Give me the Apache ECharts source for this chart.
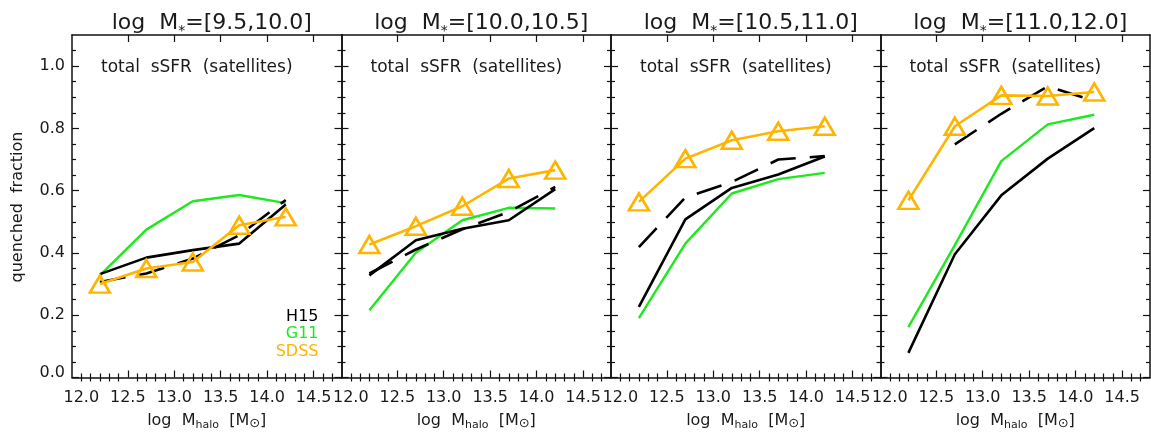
<!DOCTYPE html>
<html>
<head>
<meta charset="utf-8">
<script src="https://cdn.jsdelivr.net/npm/echarts@6/dist/echarts.min.js"></script>
<style>
  html, body { margin: 0; padding: 0; background: #fff; }
  #chart { width: 1151px; height: 438px; }
</style>
</head>
<body>
<div id="chart"></div>
<script>
// Halo-mass bin centres (log M_halo) shared by every panel
const haloMass = [12.2, 12.7, 13.2, 13.7, 14.2];

// Stellar-mass bins, one per panel
const massBins = ['[9.5,10.0]', '[10.0,10.5]', '[10.5,11.0]', '[11.0,12.0]'];

// Tick labels
const xTickLabels = [12.0, 12.5, 13.0, 13.5, 14.0, 14.5];
const xMajorTicks = [12.5, 13.0, 13.5, 14.0, 14.5];
const yTickLabels = [0.0, 0.2, 0.4, 0.6, 0.8, 1.0];

// Quenched fraction of satellites, one row per stellar-mass bin
const h15Solid = [
  [0.332, 0.385, 0.409, 0.430, 0.556],
  [0.328, 0.441, 0.478, 0.505, 0.605],
  [0.227, 0.508, 0.609, 0.652, 0.710],
  [0.079, 0.396, 0.585, 0.703, 0.801]
];
const h15Dashed = [
  [0.307, 0.334, 0.382, 0.457, 0.570],
  [0.334, 0.411, 0.476, 0.532, 0.612],
  [0.419, 0.578, 0.628, 0.700, 0.711],
  [null,  0.749, 0.847, 0.935, 0.888]
];
const g11 = [
  [0.328, 0.475, 0.566, 0.586, 0.560],
  [0.216, 0.401, 0.505, 0.545, 0.543],
  [0.191, 0.430, 0.591, 0.637, 0.657],
  [0.162, 0.425, 0.695, 0.813, 0.844]
];
const sdss = [
  [0.300, 0.350, 0.371, 0.489, 0.516],
  [0.427, 0.486, 0.550, 0.639, 0.666],
  [0.564, 0.703, 0.762, 0.791, 0.807],
  [0.569, 0.807, 0.906, 0.904, 0.917]
];

const BLACK = '#000000';
const GREEN = '#1ee81e';
const ORANGE = '#ffb400';
const FONT = 'DejaVu Sans';
const TEXT = '#1a1a1a';

const X_MIN = 11.9, X_MAX = 14.8, Y_MIN = 0, Y_MAX = 1.1;
const PANEL_LEFT = 72, PANEL_TOP = 35, PANEL_W = 269.5, PANEL_H = 342.5;

// minor tick positions (every 0.1 in x, every 0.05 in y)
const xMinorTicks = [];
for (let k = 120; k <= 147; k++) {
  const v = k / 10;
  if (!xMajorTicks.some(m => Math.abs(m - v) < 1e-6)) xMinorTicks.push(v);
}
const yMinorTicks = [];
for (let k = 1; k <= 21; k++) {
  if (k % 4 !== 0) yMinorTicks.push(k * 0.05);
}

const grids = [], xAxes = [], yAxes = [], series = [], titles = [];
const axisLine = { show: true, onZero: false, lineStyle: { color: '#111', width: 1.5 } };

function xAxisDef(g, pos, major, labels) {
  return {
    type: 'value', gridIndex: g, position: pos, min: X_MIN, max: X_MAX,
    axisLine: major ? axisLine : { show: false },
    axisTick: { show: true, inside: true, length: major ? 7 : 4,
      customValues: major ? xMajorTicks : xMinorTicks,
      lineStyle: { color: '#111', width: 1.2 } },
    axisLabel: labels ? {
      show: true, customValues: xTickLabels, margin: 12,
      formatter: v => v.toFixed(1),
      color: TEXT, fontFamily: FONT, fontSize: 16
    } : { show: false },
    splitLine: { show: false }
  };
}
function yAxisDef(g, pos, major, labels) {
  return {
    type: 'value', gridIndex: g, position: pos, min: Y_MIN, max: Y_MAX,
    axisLine: major ? axisLine : { show: false },
    axisTick: { show: true, inside: true, length: major ? 7 : 4,
      customValues: major ? yTickLabels : yMinorTicks,
      lineStyle: { color: '#111', width: 1.2 } },
    axisLabel: labels ? {
      show: true, customValues: yTickLabels, margin: 7,
      formatter: v => (Math.abs(v) < 1e-9 ? '{z|0.0}' : v.toFixed(1)),
      rich: { z: { padding: [0, 0, 10, 0], fontFamily: FONT, fontSize: 16, color: TEXT } },
      color: TEXT, fontFamily: FONT, fontSize: 16
    } : { show: false },
    splitLine: { show: false }
  };
}

function points(row) {
  const out = [];
  haloMass.forEach((x, j) => { if (row[j] !== null) out.push([x, row[j]]); });
  return out;
}

massBins.forEach((bin, i) => {
  const left = PANEL_LEFT + i * PANEL_W;
  grids.push({ left: left, top: PANEL_TOP, width: PANEL_W, height: PANEL_H, containLabel: false });

  const xi = xAxes.length;
  const xMain = xAxisDef(i, 'bottom', true, true);
  xMain.name = 'log  M{s|halo}  [M{o|\u2299}]';
  xMain.nameLocation = 'middle';
  xMain.nameGap = 33;
  xMain.nameTextStyle = {
    color: TEXT, fontFamily: FONT, fontSize: 16, lineHeight: 20,
    rich: { s: { fontFamily: FONT, fontSize: 11, color: TEXT, lineHeight: 20, verticalAlign: 'bottom' },
            o: { fontFamily: FONT, fontSize: 13, color: TEXT, lineHeight: 20, verticalAlign: 'bottom' } }
  };
  xAxes.push(xMain);
  xAxes.push(xAxisDef(i, 'bottom', false, false));
  xAxes.push(xAxisDef(i, 'top', true, false));
  xAxes.push(xAxisDef(i, 'top', false, false));

  const yi = yAxes.length;
  yAxes.push(yAxisDef(i, 'left', true, i === 0));
  yAxes.push(yAxisDef(i, 'left', false, false));
  yAxes.push(yAxisDef(i, 'right', true, false));
  yAxes.push(yAxisDef(i, 'right', false, false));

  const base = { type: 'line', xAxisIndex: xi, yAxisIndex: yi, showSymbol: false, symbol: 'none', animation: false };
  series.push(Object.assign({}, base, {
    name: 'G11', data: points(g11[i]), z: 2,
    lineStyle: { color: GREEN, width: 2.4 }
  }));
  series.push(Object.assign({}, base, {
    name: 'H15', data: points(h15Solid[i]), z: 3,
    lineStyle: { color: BLACK, width: 2.6 }
  }));
  series.push(Object.assign({}, base, {
    name: 'H15 dashed', data: points(h15Dashed[i]), z: 3,
    lineStyle: { color: BLACK, width: 2.6, type: [26, 14] }
  }));
  series.push(Object.assign({}, base, {
    name: 'SDSS', data: points(sdss[i]), z: 4,
    showSymbol: true, symbol: 'triangle', symbolSize: [20, 17],
    lineStyle: { color: ORANGE, width: 2.6 },
    itemStyle: { color: 'rgba(0,0,0,0)', borderColor: ORANGE, borderWidth: 2.6 }
  }));

  titles.push({
    text: 'log  M{s|*}=' + bin,
    left: left + PANEL_W / 2, top: 18, textAlign: 'center', textVerticalAlign: 'middle',
    textStyle: {
      color: TEXT, fontFamily: FONT, fontSize: 22, fontWeight: 'normal', lineHeight: 28,
      rich: { s: { fontFamily: FONT, fontSize: 14, color: TEXT, lineHeight: 30, verticalAlign: 'bottom' } }
    }
  });
  titles.push({
    text: 'total  sSFR  (satellites)',
    left: left + 24, top: 63, textVerticalAlign: 'middle',
    textStyle: { color: TEXT, fontFamily: FONT, fontSize: 17, fontWeight: 'normal' }
  });
});

// legend text in the first panel
[['H15', BLACK, 312], ['G11', GREEN, 329], ['SDSS', ORANGE, 346.5]].forEach(([t, c, y]) => {
  titles.push({
    text: t, left: PANEL_LEFT + 241.5, top: y, textAlign: 'right', textVerticalAlign: 'middle',
    textStyle: { color: c, fontFamily: FONT, fontSize: 16, fontWeight: 'normal' }
  });
});

const chart = echarts.init(document.getElementById('chart'), null, { renderer: 'canvas' });
chart.setOption({
  animation: false,
  backgroundColor: '#ffffff',
  title: titles,
  grid: grids,
  xAxis: xAxes,
  yAxis: yAxes,
  series: series,
  graphic: [{
    type: 'text', x: 18, y: 207, rotation: Math.PI / 2,
    style: { text: 'quenched  fraction', fill: TEXT, font: '16px "DejaVu Sans"', align: 'center', verticalAlign: 'middle' }
  }]
});
</script>
</body>
</html>
